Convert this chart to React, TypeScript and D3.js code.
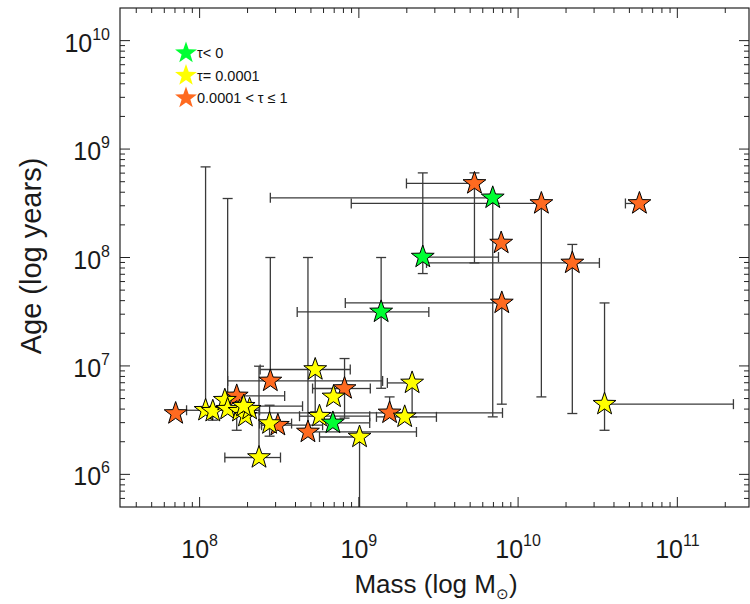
import React from 'react';
import * as d3 from 'd3';

// ---- data ----
// group: 0 = tau<0 (green), 1 = tau=0.0001 (yellow), 2 = 0.0001<tau<=1 (orange)
const group = [
  2, 2, 2, 2, 2, 2, 2, 2, 2, 2, 2, 2, 2,
  1, 1, 1, 1, 1, 1, 1, 1, 1, 1, 1, 1, 1, 1, 1, 1, 1,
  0, 0, 0, 0,
];
const mass = [
  7.07e7, 1.71e8, 2.78e8, 3.10e8, 4.79e8, 8.13e8, 1.56e9, 5.32e9, 1.40e10, 7.83e9, 2.19e10, 7.90e9, 5.78e10,
  2.16e9, 1.94e9, 1.01e9, 5.32e8, 6.93e8, 5.66e8, 2.75e8, 2.36e8, 3.49e10, 1.09e8, 1.21e8, 1.44e8, 1.50e8, 1.78e8, 1.94e8, 2.06e8, 1.89e8,
  6.93e9, 1.38e9, 6.87e8, 2.52e9,
];
const age = [
  3.64e6, 5.29e6, 7.27e6, 2.84e6, 2.46e6, 6.19e6, 3.69e6, 4.82e8, 3.15e8, 1.36e8, 8.91e7, 3.81e7, 3.15e8,
  6.97e6, 3.39e6, 2.21e6, 9.27e6, 5.18e6, 3.44e6, 2.94e6, 1.43e6, 4.44e6, 3.90e6, 3.82e6, 4.83e6, 3.99e6, 3.82e6, 3.44e6, 3.99e6, 4.25e6,
  3.55e8, 3.15e7, 2.98e6, 1.01e8,
];
const N = null;
const massLo = [
  N, 1.46e8, 1.50e8, 2.45e8, N, 5.12e8, 2.06e8, 1.99e9, 8.96e8, N, 2.66e9, 8.22e8, 4.72e10,
  1.51e9, 1.29e9, 5.66e8, 2.40e8, N, 4.24e8, 2.38e8, 1.44e8, N, 8.28e7, N, N, N, N, N, N, N,
  2.78e8, 4.10e8, N, N,
];
const massHi = [
  N, 3.42e8, 1.41e9, 5.92e8, 2.30e9, 1.18e9, 7.98e9, N, N, N, 3.24e10, N, N,
  N, 3.07e9, N, 8.83e8, N, 1.17e9, 3.78e8, 3.22e8, 2.25e11, 2.38e8, N, N, N, N, N, N, 4.43e8,
  N, 2.75e9, 1.17e9, 7.53e9,
];
const ageLo = [
  N, 2.55e6, N, N, N, 3.30e6, N, 8.91e7, 5.18e6, N, 3.64e6, 4.44e6, N,
  3.39e6, N, 4.0e5, 3.77e6, N, N, 2.25e6, N, 2.55e6, N, 3.16e6, N, N, N, N, N, N,
  3.39e6, 6.22e6, N, 7.11e7,
];
const ageHi = [
  N, N, 1.0e8, N, 1.0e8, 1.17e7, 5.18e6, 6.03e8, N, N, 1.32e8, N, N,
  N, N, N, N, N, N, 4.34e6, 9.94e6, 3.81e7, 6.85e8, N, N, 3.50e8, N, N, N, N,
  N, 1.0e8, N, 6.03e8,
];

const groupColors = ['#00ff33', '#ffff00', '#ff6a20'];
const legendLabels = ['τ< 0', 'τ= 0.0001', '0.0001 < τ ≤ 1'];
const xMajor = [1e8, 1e9, 1e10, 1e11];
const xMajorExp = ['8', '9', '10', '11'];
const yMajor = [1e6, 1e7, 1e8, 1e9, 1e10];
const yMajorExp = ['6', '7', '8', '9', '10'];

const FONT = '"Liberation Sans", Arial, Helvetica, sans-serif';

function starPath(cx: number, cy: number, R: number) {
  const r = R * 0.4;
  const pts: [number, number][] = [];
  for (let i = 0; i < 10; i++) {
    const a = -Math.PI / 2 + (i * Math.PI) / 5;
    const rr = i % 2 === 0 ? R : r;
    pts.push([cx + rr * Math.cos(a), cy + rr * Math.sin(a)]);
  }
  return d3.line()(pts) + 'Z';
}

function minorTicks(lo: number, hi: number) {
  const out: number[] = [];
  for (let e = 5; e <= 11; e++) {
    for (let k = 2; k <= 9; k++) {
      const v = k * Math.pow(10, e);
      if (v > lo && v < hi) out.push(v);
    }
  }
  return out;
}

export default function App() {
  const L = 120, R = 749, T = 8, B = 507;
  const x = d3.scaleLog().domain([Math.pow(10, 7.5), Math.pow(10, 11.45)]).range([L, R]);
  const y = d3.scaleLog().domain([5e5, 2e10]).range([B, T]);
  const xMinor = minorTicks(x.domain()[0], x.domain()[1]);
  const yMinor = minorTicks(y.domain()[0], y.domain()[1]);
  const cap = 5;
  const barColor = '#3a3a3a';

  const order = d3.range(mass.length);
  const drawOrder = [...order.filter(i => group[i] === 2), ...order.filter(i => group[i] === 1), ...order.filter(i => group[i] === 0)];

  return (
    <svg width={750} height={604} style={{ position: 'absolute', left: 0, top: 0, background: '#fff' }} fontFamily={FONT}>
      <defs>
        <clipPath id="plotclip">
          <rect x={L} y={T} width={R - L} height={B - T} />
        </clipPath>
      </defs>
      <rect x={0} y={0} width={750} height={604} fill="#fff" />
      {/* error bars */}
      <g clipPath="url(#plotclip)" stroke={barColor} strokeWidth={1.3} fill="none">
        {order.map(i => {
          const cx = x(mass[i]);
          const cy = y(age[i]);
          const els: JSX.Element[] = [];
          const lo = massLo[i], hi = massHi[i], alo = ageLo[i], ahi = ageHi[i];
          if (lo != null) {
            const xl = x(lo);
            els.push(<line key="xl" x1={xl} x2={cx} y1={cy} y2={cy} />);
            els.push(<line key="xlc" x1={xl} x2={xl} y1={cy - cap} y2={cy + cap} />);
          }
          if (hi != null) {
            const xh = x(hi);
            els.push(<line key="xh" x1={cx} x2={xh} y1={cy} y2={cy} />);
            els.push(<line key="xhc" x1={xh} x2={xh} y1={cy - cap} y2={cy + cap} />);
          }
          if (alo != null) {
            const yl = y(alo);
            els.push(<line key="yl" x1={cx} x2={cx} y1={cy} y2={yl} />);
            els.push(<line key="ylc" x1={cx - cap} x2={cx + cap} y1={yl} y2={yl} />);
          }
          if (ahi != null) {
            const yh = y(ahi);
            els.push(<line key="yh" x1={cx} x2={cx} y1={cy} y2={yh} />);
            els.push(<line key="yhc" x1={cx - cap} x2={cx + cap} y1={yh} y2={yh} />);
          }
          return <g key={i}>{els}</g>;
        })}
      </g>
      {/* stars */}
      <g clipPath="url(#plotclip)">
        {drawOrder.map(i => (
          <path key={i} d={starPath(x(mass[i]), y(age[i]), 12)} fill={groupColors[group[i]]} stroke="#000" strokeWidth={1} strokeLinejoin="miter" />
        ))}
      </g>
      {/* frame */}
      <rect x={L} y={T} width={R - L} height={B - T} fill="none" stroke="#222" strokeWidth={1.2} />
      {/* ticks */}
      <g stroke="#222" strokeWidth={1}>
        {xMajor.map((v, k) => (
          <g key={'xM' + k}>
            <line x1={x(v)} x2={x(v)} y1={B} y2={B - 10} />
            <line x1={x(v)} x2={x(v)} y1={T} y2={T + 10} />
          </g>
        ))}
        {xMinor.map((v, k) => (
          <g key={'xm' + k}>
            <line x1={x(v)} x2={x(v)} y1={B} y2={B - 5} />
            <line x1={x(v)} x2={x(v)} y1={T} y2={T + 5} />
          </g>
        ))}
        {yMajor.map((v, k) => (
          <g key={'yM' + k}>
            <line x1={L} x2={L + 10} y1={y(v)} y2={y(v)} />
            <line x1={R} x2={R - 10} y1={y(v)} y2={y(v)} />
          </g>
        ))}
        {yMinor.map((v, k) => (
          <g key={'ym' + k}>
            <line x1={L} x2={L + 5} y1={y(v)} y2={y(v)} />
            <line x1={R} x2={R - 5} y1={y(v)} y2={y(v)} />
          </g>
        ))}
      </g>
      {/* tick labels */}
      <g fill="#1a1a1a">
        {xMajor.map((v, k) => (
          <text key={'xl' + k} x={x(v)} y={558} textAnchor="middle" fontSize={25}>
            10<tspan dy={-12} fontSize={16}>{xMajorExp[k]}</tspan>
          </text>
        ))}
        {yMajor.map((v, k) => (
          <text key={'yl' + k} x={110} y={y(v) + 11} textAnchor="end" fontSize={25}>
            10<tspan dy={-12} fontSize={16}>{yMajorExp[k]}</tspan>
          </text>
        ))}
      </g>
      {/* axis titles */}
      <text x={436} y={593} textAnchor="middle" fontSize={26} fill="#1a1a1a">
        Mass (log M<tspan dy={6} fontSize={15}>⊙</tspan><tspan dy={-6}>)</tspan>
      </text>
      <text transform={`translate(41,256) rotate(-90)`} textAnchor="middle" fontSize={29} fill="#1a1a1a">
        Age (log years)
      </text>
      {/* legend */}
      <g>
        {[0, 1, 2].map(k => (
          <g key={'lg' + k}>
            <path d={starPath(186, 53 + k * 22.5, 11.5)} fill={groupColors[k]} />
            <text x={197} y={58 + k * 22.5} fontSize={14.5} fill="#111">{legendLabels[k]}</text>
          </g>
        ))}
      </g>
    </svg>
  );
}
